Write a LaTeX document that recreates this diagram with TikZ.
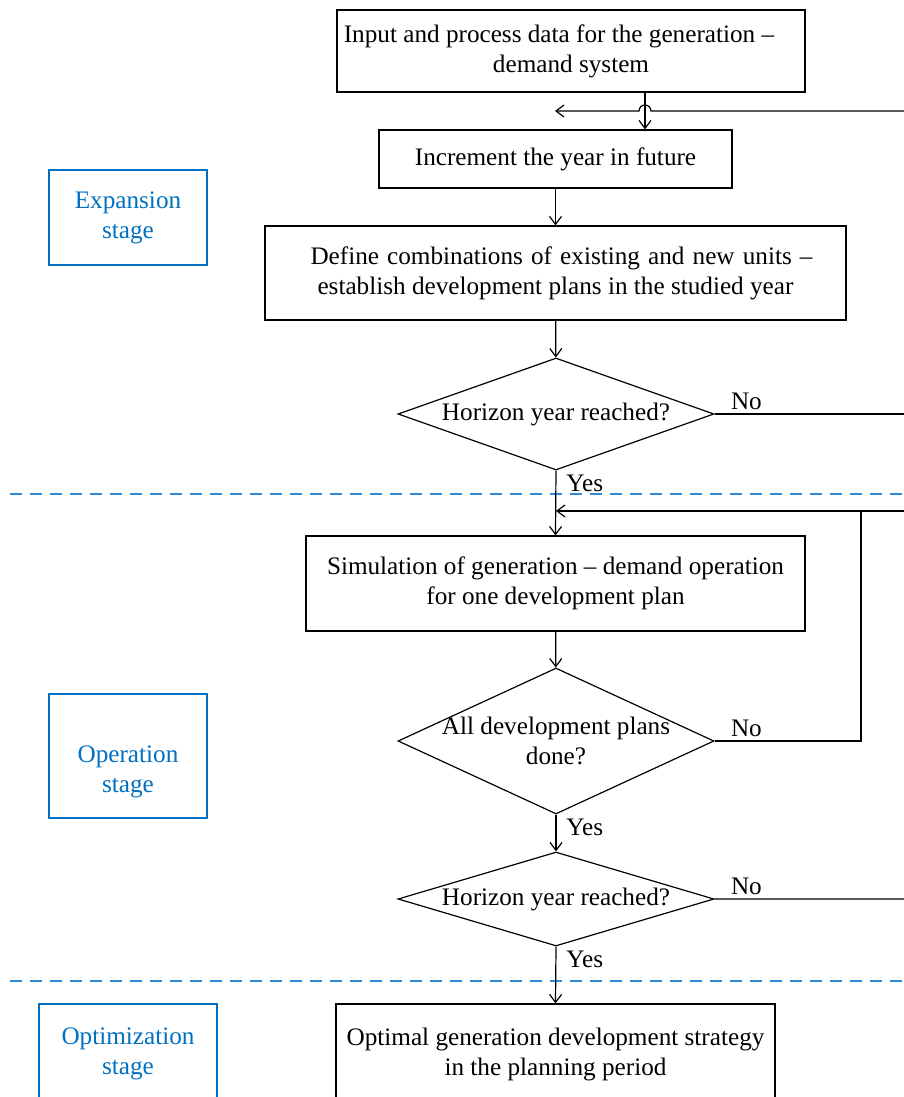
\documentclass[tikz,border=0pt]{standalone}
\usepackage{fontspec}
\setmainfont{Liberation Serif}
\usetikzlibrary{arrows.meta,shapes.geometric}
\definecolor{stageblue}{HTML}{0070C0}
\definecolor{dashblue}{HTML}{2E8BD8}
\begin{document}
\begin{tikzpicture}[x=0.5pt,y=-0.5pt,
  every node/.style={font=\fontsize{12.6}{15}\selectfont},
  stepbox/.style={draw,line width=0.6pt,rectangle,inner sep=0pt,align=center},
  stagebox/.style={draw=stageblue,line width=0.6pt,rectangle,inner sep=0pt,align=center,text=stageblue},
  decision/.style={draw,line width=0.6pt,diamond,inner sep=0pt},
  flow/.style={line width=0.6pt,-{Straight Barb[length=4pt,width=6pt]}},
  plain/.style={line width=0.6pt},
  sep/.style={draw=dashblue,line width=1pt,dash pattern=on 6pt off 4pt},
  lbl/.style={inner sep=0pt}
]
\useasboundingbox (0,0) rectangle (904,1097);
\clip (0,0) rectangle (904,1097);

% process boxes
\node[stepbox,minimum width=234pt,minimum height=41pt] (b1) at (571,51)
  {Input and process data for the generation –\hspace*{12pt}\\demand system};
\node[stepbox,minimum width=176.5pt,minimum height=29pt] (b2) at (555.5,159)
  {Increment the year in future};
\node[stepbox,minimum width=290.5pt,minimum height=47pt] (b3) at (555.5,273)
  {\hspace*{6pt}\makebox[251pt][s]{Define combinations of existing and new units –}\\establish development plans in the studied year};
\node[decision,minimum width=158pt,minimum height=56pt,
  label={[lbl]center:Horizon year reached?}] (d1) at (556,414) {};
\node[stepbox,minimum width=249.5pt,minimum height=47.5pt] (b4) at (555.5,583.5)
  {Simulation of generation – demand operation\\for one development plan};
\node[decision,minimum width=158pt,minimum height=73pt,
  label={[lbl,align=center]center:All development plans\\done?}] (d2) at (556,741) {};
\node[decision,minimum width=158pt,minimum height=47pt,
  label={[lbl]center:Horizon year reached?}] (d3) at (556,899) {};
\node[stepbox,minimum width=219.5pt,minimum height=50pt] (b5) at (555.5,1054)
  {Optimal generation development strategy\\in the planning period};

% stage boxes
\node[stagebox,minimum width=79pt,minimum height=47.5pt] (s1) at (128,217.5) {Expansion\\stage};
\node[stagebox,minimum width=79pt,minimum height=62pt,
  label={[lbl,align=center,text=stageblue,yshift=-8pt]center:Operation\\stage}] (s2) at (128,756) {};
\node[stagebox,minimum width=89pt,minimum height=50pt] (s3) at (128,1054) {Optimization\\stage};

% separators
\coordinate (sepAl) at (10,494);
\coordinate (sepAr) at (904,494);
\coordinate (sepBl) at (10,981);
\coordinate (sepBr) at (904,981);
\draw[sep] (sepAl) -- (sepAr);
\draw[sep] (sepBl) -- (sepBr);

% helper coordinates
\coordinate (hop) at (645,111);
\coordinate (fbtop) at (555,111);
\coordinate (fbmid) at (556,511);
\coordinate (rx) at (915,0);
\coordinate (mx) at (861,0);

% main flow
\draw[flow] (b1.south -| hop) -- (b2.north -| hop);
\draw[flow] (b2) -- (b3);
\draw[flow] (b3) -- (d1);
\draw[flow] (d1.south) -- (b4.north);
\draw[flow] (b4) -- (d2);
\draw[flow] (d2.south) -- (d3.north);
\draw[flow] (d3.south) -- (b5.north);

% feedback to top
\draw[plain] (d1.east) -- (d1.east -| rx);
\draw[flow] (d3.east) -- (d3.east -| rx) -- (rx |- hop) -- ([xshift=3pt]hop)
  arc[start angle=0,end angle=180,radius=3pt] -- (fbtop);

% feedback to operation stage
\draw[flow] (d2.east) -- (d2.east -| mx) -- (mx |- fbmid) -- (fbmid);
\draw[plain] (mx |- fbmid) -- (rx |- fbmid);

% labels
\node[lbl,anchor=south west] (no1) at ([xshift=8pt,yshift=2pt]d1.east) {No};
\node[lbl,anchor=south west] (no2) at ([xshift=8pt,yshift=2pt]d2.east) {No};
\node[lbl,anchor=south west] (no3) at ([xshift=8pt,yshift=2pt]d3.east) {No};
\node[lbl,anchor=north west] (y1) at ([xshift=5pt,yshift=-2pt]d1.south) {Yes};
\node[lbl,anchor=north west] (y2) at ([xshift=5pt,yshift=-2pt]d2.south) {Yes};
\node[lbl,anchor=north west] (y3) at ([xshift=5pt,yshift=-2pt]d3.south) {Yes};
\end{tikzpicture}
\end{document}
